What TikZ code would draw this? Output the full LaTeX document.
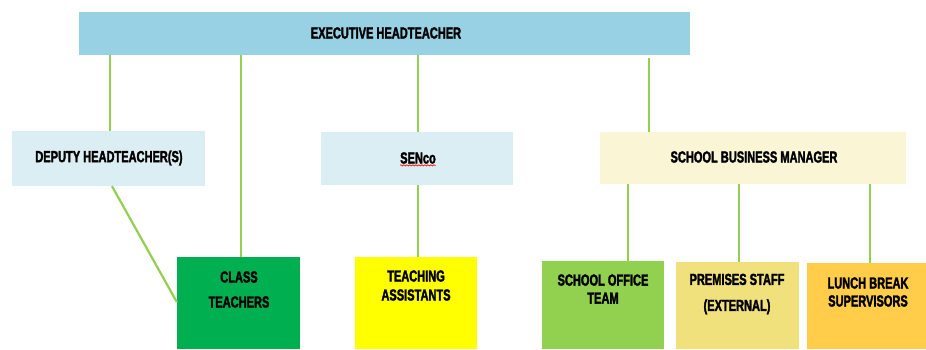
\documentclass[tikz,border=0pt]{standalone}
\usepackage{fontspec}
\usetikzlibrary{decorations.pathmorphing}
\newfontfamily\lab[FakeStretch=0.69,FakeBold=2]{Liberation Sans Bold}
\definecolor{cexec}{HTML}{97D1E3}
\definecolor{clight}{HTML}{DBEEF4}
\definecolor{csbm}{HTML}{FAF5D5}
\definecolor{cct}{HTML}{00B050}
\definecolor{cta}{HTML}{FFFF00}
\definecolor{cot}{HTML}{92D050}
\definecolor{cps}{HTML}{F0E17D}
\definecolor{clb}{HTML}{FFCD4A}
\definecolor{cline}{HTML}{92D050}
\begin{document}
\begin{tikzpicture}[x=1pt,y=-1pt,
  box/.style={draw=none,inner sep=0pt,rectangle},
  lbl/.style={inner sep=0pt,align=center,font=\lab\fontsize{16}{#1}\selectfont},
  lbl/.default=15,
  conn/.style={draw=cline,line width=2.2pt}]
\useasboundingbox (0,0) rectangle (926,349);
% boxes
\node[box,fill=cexec,minimum width=611,minimum height=43] (exec) at (384.5,33.5) {};
\node[box,fill=clight,minimum width=193,minimum height=55] (dep) at (108.5,158.5) {};
\node[box,fill=clight,minimum width=192,minimum height=53] (sen) at (417,158.5) {};
\node[box,fill=csbm,minimum width=306,minimum height=52] (sbm) at (753,158) {};
\node[box,fill=cct,minimum width=123,minimum height=92] (ct) at (238.5,303) {};
\node[box,fill=cta,minimum width=122,minimum height=92] (ta) at (416,303) {};
\node[box,fill=cot,minimum width=122,minimum height=88] (ot) at (603,305) {};
\node[box,fill=cps,minimum width=123,minimum height=87] (ps) at (737.5,305.5) {};
\node[box,fill=clb,minimum width=119,minimum height=86] (lb) at (866.5,306) {};
% labels
\node[lbl] (texec) at (386,33) {EXECUTIVE HEADTEACHER};
\node[lbl] (tdep) at (109,158) {DEPUTY HEADTEACHER(S)};
\node[lbl] (tsen) at (418,158) {SENco};
\node[lbl] (tsbm) at (754,157) {SCHOOL BUSINESS MANAGER};
\node[lbl=25] (tct) at (239,289.5) {CLASS\\TEACHERS};
\node[lbl=19] (tta) at (416,285.5) {TEACHING\\ASSISTANTS};
\node[lbl=18] (tot) at (603,289) {SCHOOL OFFICE\\TEAM};
\node[lbl=26] (tps) at (737,294) {PREMISES STAFF\\(EXTERNAL)};
\node[lbl=18] (tlb) at (868,292) {LUNCH BREAK\\SUPERVISORS};
\draw[red,line width=0.6pt,decorate,decoration={snake,amplitude=0.7pt,segment length=3pt}]
  ([yshift=-1.5pt]tsen.south west) -- ([yshift=-1.5pt]tsen.south east);
% connector x positions
\coordinate (x1) at (110,0);
\coordinate (x2) at (241,0);
\coordinate (x3) at (418,0);
\coordinate (x4) at (649,0);
\coordinate (x5) at (628,0);
\coordinate (x6) at (739,0);
\coordinate (x7) at (870,0);
\coordinate (d1) at (112,0);
\coordinate (d2) at (0,302);
% connectors
\draw[conn] (exec.south -| x1) -- (dep.north -| x1);
\draw[conn] (exec.south -| x2) -- (ct.north -| x2);
\draw[conn] (exec.south -| x3) -- (sen.north -| x3);
\draw[conn] ([yshift=-3pt]exec.south -| x4) -- (sbm.north -| x4);
\draw[conn] (sen.south -| x3) -- (ta.north -| x3);
\draw[conn] (dep.south -| d1) -- (ct.west |- d2);
\draw[conn] (sbm.south -| x5) -- (ot.north -| x5);
\draw[conn] (sbm.south -| x6) -- (ps.north -| x6);
\draw[conn] (sbm.south -| x7) -- (lb.north -| x7);
\end{tikzpicture}
\end{document}
